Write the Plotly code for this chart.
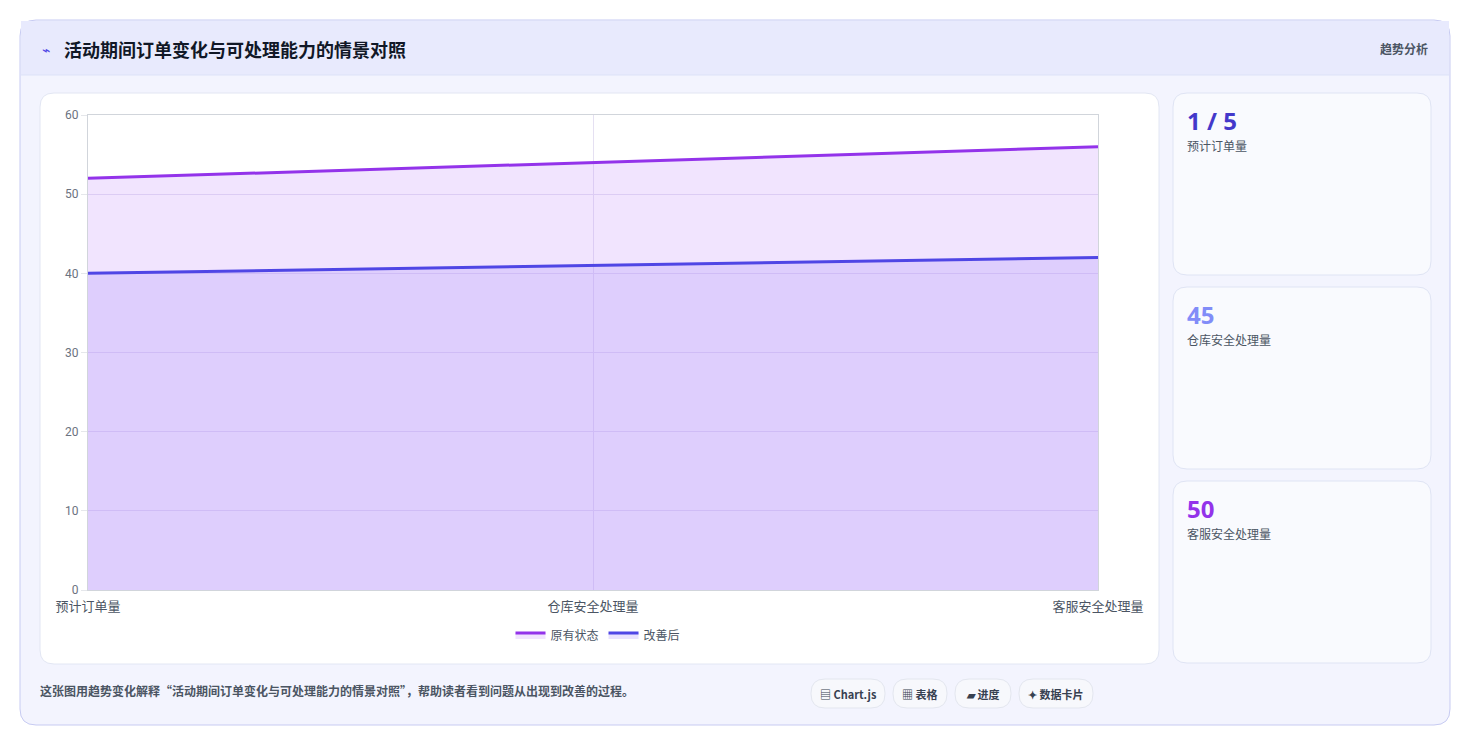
import plotly.graph_objects as go

categories = ["预计订单量", "仓库安全处理量", "客服安全处理量"]
original = [52, 54, 56]
improved = [40, 41, 42]
card_values = ["1 / 5", "45", "50"]
card_labels = ["预计订单量", "仓库安全处理量", "客服安全处理量"]
card_colors = ["#4338ca", "#818cf8", "#9333ea"]
tools = ["▤ Chart.js", "▦ 表格", "▰ 进度", "✦ 数据卡片"]

OFF = 8
W, H = 1471 - 2 * OFF, 747 - 2 * OFF
L, R, T, B = 88, 1098, 115, 590
def px(x): return (x - L) / (R - L)
def py(y): return (B - y) / (B - T)

def rrect(x0, y0, x1, y1, r):
    X0, X1, Y0, Y1 = px(x0), px(x1), py(y0), py(y1)
    rx = r / (R - L); ry = r / (B - T)
    return (f"M{X0+rx},{Y0} L{X1-rx},{Y0} Q{X1},{Y0} {X1},{Y0-ry} L{X1},{Y1+ry} Q{X1},{Y1} {X1-rx},{Y1} "
            f"L{X0+rx},{Y1} Q{X0},{Y1} {X0},{Y1+ry} L{X0},{Y0-ry} Q{X0},{Y0} {X0+rx},{Y0} Z")

font = "Noto Sans CJK SC"
fig = go.Figure()
fig.add_trace(go.Scatter(x=categories, y=original, name="原有状态", mode="lines", fill="tozeroy",
                         line=dict(color="#9333ea", width=3), fillcolor="rgba(192,132,252,0.22)"))
fig.add_trace(go.Scatter(x=categories, y=improved, name="改善后", mode="lines", fill="tozeroy",
                         line=dict(color="#4f46e5", width=3), fillcolor="rgba(167,139,250,0.25)"))

shapes = []
shapes.append(dict(type="path", path=rrect(20, 20, 1450, 725, 16), xref="paper", yref="paper",
                   fillcolor="#f3f4fe", line=dict(color="#c7cbf2", width=1), layer="below"))
shapes.append(dict(type="rect", x0=px(21), x1=px(1449), y0=py(21), y1=py(75), xref="paper", yref="paper",
                   fillcolor="#e8eafd", line=dict(width=0), layer="below"))
shapes.append(dict(type="line", x0=px(21), x1=px(1449), y0=py(75), y1=py(75), xref="paper", yref="paper",
                   line=dict(color="#dde2f7", width=1), layer="below"))
shapes.append(dict(type="path", path=rrect(40, 93, 1159, 664, 14), xref="paper", yref="paper",
                   fillcolor="white", line=dict(color="#e2e6f3", width=1), layer="below"))
anns = []
def ann(x, y, text, size, color, anchor="left", fam=font):
    anns.append(dict(x=px(x), y=py(y), xref="paper", yref="paper", text=text, showarrow=False,
                     xanchor=anchor, yanchor="middle", font=dict(size=size, color=color, family=fam)))

for i, (y0, y1) in enumerate([(93, 275), (287, 469), (481, 663)]):
    shapes.append(dict(type="path", path=rrect(1173, y0, 1431, y1, 14), xref="paper", yref="paper",
                       fillcolor="#f9fafe", line=dict(color="#dfe4f4", width=1), layer="below"))
    ann(1185, y0 + 27, f"<b>{card_values[i]}</b>", 24, card_colors[i], fam="Noto Sans")
    ann(1185, y0 + 52, card_labels[i], 12, "#4b5563")

ann(40, 49, "⌁", 14, "#4f46e5")
ann(62, 49, "<b>活动期间订单变化与可处理能力的情景对照</b>", 18, "#111827")
ann(1430, 48, "<b>趋势分析</b>", 12, "#4b5563", anchor="right")
ann(38, 690, "<b>这张图用趋势变化解释“活动期间订单变化与可处理能力的情景对照”，帮助读者看到问题从出现到改善的过程。</b>",
    12, "#4b5563")
bx = [(811, 885), (893, 947), (955, 1011), (1019, 1093)]
for t, (a, b) in zip(tools, bx):
    shapes.append(dict(type="path", path=rrect(a, 679, b, 708, 14), xref="paper", yref="paper",
                       fillcolor="#f7f8fc", line=dict(color="#e3e6ef", width=1), layer="below"))
    ann((a + b) / 2, 694, f"<b>{t}</b>", 11, "#374151", anchor="center")

fig.update_layout(
    width=W, height=H, margin=dict(l=L - OFF, r=W - (R - OFF), t=T - OFF, b=H - (B - OFF), pad=0),
    paper_bgcolor="white", plot_bgcolor="white", shapes=shapes, annotations=anns,
    showlegend=True,
    legend=dict(orientation="h", x=px(598), xanchor="center", y=py(635), yanchor="middle",
                font=dict(size=12, color="#4b5563", family=font), bgcolor="rgba(0,0,0,0)"),
    xaxis=dict(range=[0, 2], showgrid=True, gridcolor="#e5e0f2", showline=True, linecolor="#d1d5db",
               mirror=True, tickfont=dict(size=13, color="#4b5563", family=font), ticks="", ticklabelstandoff=4),
    yaxis=dict(range=[0, 60], dtick=10, showgrid=True, gridcolor="#e5e0f2", showline=True, linecolor="#d1d5db",
               mirror=True, zeroline=False, tickfont=dict(size=12, color="#6b7280", family="Roboto"),
               ticks="outside", ticklen=6, tickcolor="#e5e7eb"),
)
fig.write_html("out.html")
